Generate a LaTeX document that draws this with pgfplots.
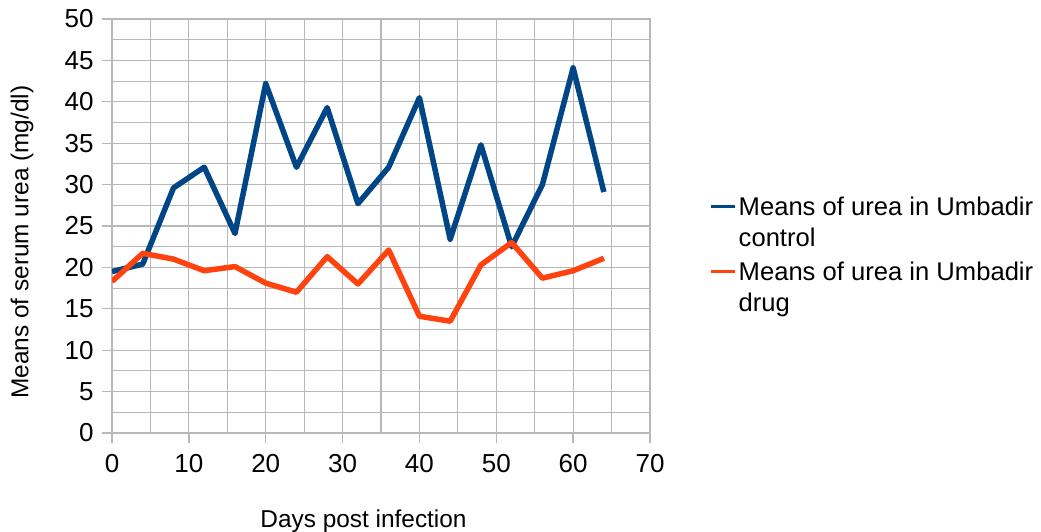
\documentclass[border=0pt]{standalone}
\usepackage{pgfplots}
\pgfplotsset{compat=1.18}
\usepackage{fontspec}
\setmainfont{Liberation Sans}
\definecolor{cblue}{HTML}{004586}
\definecolor{cred}{HTML}{FF420E}
\definecolor{cgrid}{HTML}{B8B8B8}
\begin{document}
\begin{tikzpicture}
\path[use as bounding box] (-112pt,-98pt) rectangle (929pt,433pt);
\begin{axis}[
  at={(0pt,0pt)}, anchor=origin,
  scale only axis, width=538pt, height=414pt,
  xmin=0, xmax=70, ymin=0, ymax=50,
  xtick={0,10,...,70}, ytick={0,5,...,50},
  minor x tick num=1, minor y tick num=1,
  grid=both,
  major grid style={cgrid, line width=1.1pt},
  minor grid style={cgrid, line width=1.1pt},
  axis line style={cgrid, line width=1.6pt},
  tick align=outside, xtick pos=left, ytick pos=left,
  major tick length=10pt, minor tick length=0pt,
  tick style={cgrid, line width=1.3pt},
  /pgf/number format/assume math mode=true,
  ticklabel style={font=\fontsize{26}{30}\selectfont},
  xticklabel style={yshift=-8pt},
  yticklabel style={xshift=-5pt},
  label style={font=\fontsize{24.4}{28}\selectfont},
  xlabel={Days post infection},
  ylabel={Means of serum urea (mg/dl)},
  xlabel style={at={(axis description cs:0.4675,-0.229)}, anchor=base},
  ylabel style={at={(axis description cs:-0.167,0.461)}, anchor=center},
  legend style={draw=none, fill=none, inner sep=0pt, outer sep=0pt,
    at={(axis description cs:1.111,0.43)}, anchor=west,
    font=\fontsize{25.6}{31}\selectfont,
    cells={anchor=west, align=left}, row sep=10pt,
    /tikz/every even column/.append style={column sep=3pt}},
  legend image code/.code={\draw[#1, line width=3pt] (0pt,16pt) -- (24pt,16pt);},
]
\addplot[cblue, line width=5.5pt, line join=round] coordinates {
(0,19.5) (4,20.4) (8,29.6) (12,32.1) (16,24.1) (20,42.2) (24,32.1) (28,39.3)
(32,27.7) (36,32.1) (40,40.5) (44,23.4) (48,34.8) (52,22.5) (56,30.0) (60,44.1) (64,29.1)};
\addlegendentry{Means of urea in Umbadir\\control}
\addplot[cred, line width=5.5pt, line join=round] coordinates {
(0,18.3) (4,21.7) (8,21.0) (12,19.6) (16,20.1) (20,18.1) (24,17.0) (28,21.3)
(32,18.0) (36,22.1) (40,14.1) (44,13.5) (48,20.3) (52,23.0) (56,18.7) (60,19.6) (64,21.1)};
\addlegendentry{Means of urea in Umbadir\\drug}
\end{axis}
\end{tikzpicture}
\end{document}
